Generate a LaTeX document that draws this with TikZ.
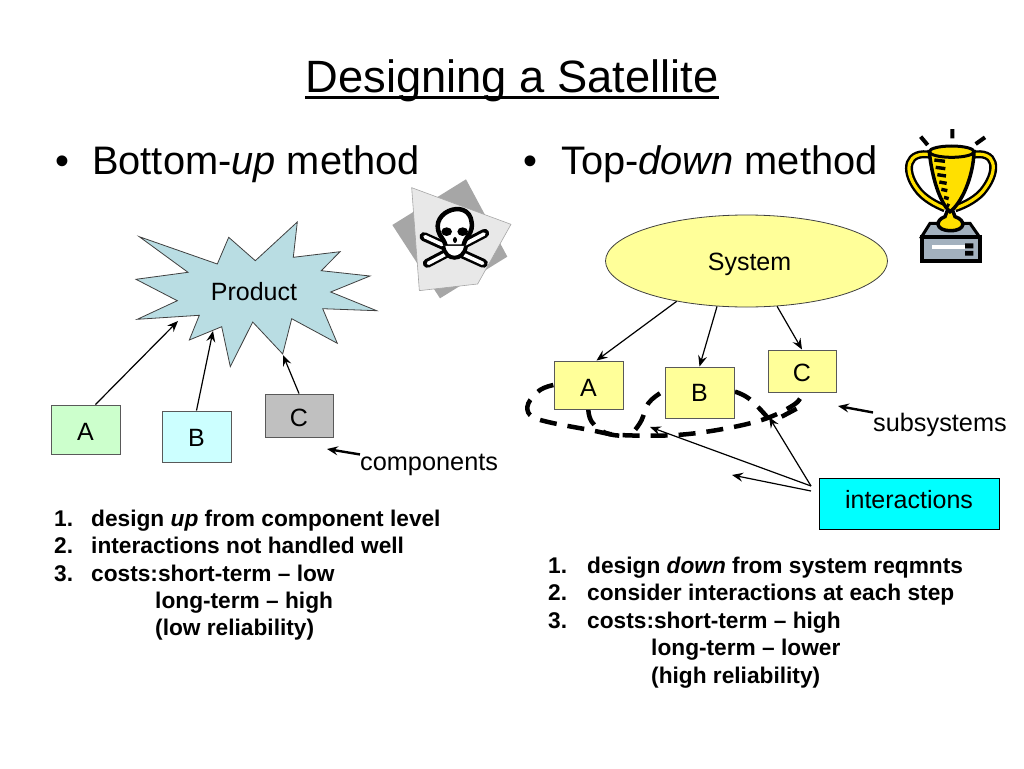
\documentclass[tikz,border=0pt]{standalone}
\usepackage{fontspec}
\setmainfont{Liberation Sans}
\usetikzlibrary{arrows.meta}
\usetikzlibrary{shapes.geometric}
\usetikzlibrary{positioning}

\definecolor{prodblue}{HTML}{B9DDE3}
\definecolor{lowgreen}{HTML}{CCFFCC}
\definecolor{lowcyan}{HTML}{CCFFFF}
\definecolor{lowgray}{HTML}{C0C0C0}
\definecolor{sysyellow}{HTML}{FFFF99}
\definecolor{intercyan}{HTML}{00FFFF}
\definecolor{cupyellow}{HTML}{FFE000}
\definecolor{basegray}{HTML}{A3B1BE}

\newcommand{\dropby}[2]{\raisebox{-#1}[0pt][0pt]{#2}}

\tikzset{
  partbox/.style={draw=black!65, line width=1pt, inner sep=0pt, font=\fontsize{25}{25}\selectfont},
  headtext/.style={anchor=base west, inner sep=0pt, font=\fontsize{39.8}{40}\selectfont},
  labeltext/.style={anchor=base west, inner sep=0pt, font=\fontsize{25.3}{25}\selectfont},
  listline/.style={anchor=base west, inner sep=0pt, font=\fontsize{22.7}{23}\selectfont\bfseries},
  thinarrow/.style={-{Stealth[length=11pt,width=9pt,inset=4pt]}, line width=1.2pt},
  heavyarrow/.style={-{Stealth[length=11pt,width=9pt,inset=4pt]}, line width=2.4pt},
  dashline/.style={line width=4.5pt, dash pattern=on 17pt off 11pt}
}

\begin{document}
\begin{tikzpicture}[x=1pt, y=-1pt]
  \useasboundingbox (0,0) rectangle (1024,768);

  % headings
  \node (title) [anchor=base, inner sep=0pt, font=\fontsize{45.3}{45}\selectfont] at (512,92) {Designing a Satellite};
  \draw[line width=2.8pt] ([yshift=-5.5pt]title.base west) -- ([yshift=-5.5pt]title.base east);
  \node (bulleta) [headtext] at (55,174) {•};
  \node (heada) [headtext] at (92,174) {Bottom-\emph{up} method};
  \node (bulletb) [headtext] at (523,174) {•};
  \node (headb) [headtext] at (561,174) {Top-\emph{down} method};

  % bottom-up side
  \draw[fill=prodblue, draw=black!75, line width=0.8pt] (139.3,236.7) -- (217.3,264) -- (228.7,237.3) -- (255.3,260.7)
    -- (297.3,222) -- (293.3,257.3) -- (340,251.7) -- (321.3,270.7) -- (370,276) -- (330.7,292)
    -- (376.7,310.7) -- (322.7,308.7) -- (337.3,343.3) -- (291.7,318.7) -- (282.7,354) -- (252.7,322)
    -- (230.3,366.7) -- (221.7,326.7) -- (189.3,340) -- (199.3,315.3) -- (137.3,319.3) -- (177.3,300.7)
    -- (136,279.3) -- (188,272.3) -- cycle;
  \node (product) [inner sep=0pt, font=\fontsize{25}{25}\selectfont] at (254,292) {Product};
  \coordinate (prodleft) at (178,321);
  \coordinate (prodmid) at (213,331);
  \coordinate (prodright) at (283,355);

  \node (lowa) [partbox, fill=lowgreen, minimum width=69pt, minimum height=49pt] at (85.5,429.5) {\dropby{10.5pt}{A}};
  \node (lowb) [partbox, fill=lowcyan, minimum width=69pt, minimum height=51pt] at (196.5,436.5) {\dropby{9.5pt}{B}};
  \node (lowc) [partbox, fill=lowgray, minimum width=68pt, minimum height=43pt] at (299,415.5) {\dropby{10.5pt}{C}};

  \draw[thinarrow] ([xshift=10pt]lowa.north) -- (prodleft);
  \draw[thinarrow] (lowb.north) -- (prodmid);
  \draw[thinarrow] (lowc.north) -- (prodright);

  \node (components) [labeltext] at (360,470) {components};
  \draw[heavyarrow] ([yshift=-1pt]components.north west) -- (327,449);

  \node (la1) [listline] at (54,526) {1.};
  \node (la2) [listline] at (54,553) {2.};
  \node (la3) [listline] at (54,581) {3.};
  \node (ta1) [listline] at (91,526) {design \emph{up} from component level};
  \node (ta2) [listline] at (91,553) {interactions not handled well};
  \node (ta3) [listline] at (91,581) {costs:short-term – low};
  \node (ta4) [listline] at (155,608) {long-term – high};
  \node (ta5) [listline] at (155,635) {(low reliability)};

  % skull sticker
  \begin{scope}[shift={(380,120)}, x=0.3333pt, y=-0.3333pt]
    \fill[black!35] (258,178) -- (382,410) -- (180,535) -- (37,315) -- cycle;
    \draw[black!35, fill=black!9, line width=0.6pt] (95,203) -- (393,313) -- (293,492) -- (118,512) -- cycle;
    \draw[black, line width=9pt, line cap=round] (132,350) -- (310,430) (314,340) -- (142,430);
    \draw[white, line width=3.6pt, line cap=round] (135,350) -- (308,430) (312,342) -- (145,430);
    \draw[black, fill=white, line width=4.5pt] (180,345) .. controls (140,270) and (285,225) .. (275,325)
      .. controls (272,345) and (255,350) .. (250,380) -- (198,380) .. controls (193,360) and (185,355) .. (180,345) -- cycle;
    \fill[black] (200,335) ellipse (16 and 13) (248,335) ellipse (16 and 13) (225,360) ellipse (6 and 9);
    \draw[black, fill=white, line width=4pt] (190,378) .. controls (195,425) and (252,425) .. (258,378);
  \end{scope}

  % top-down side
  \begin{scope}[shift={(520,340)}, x=0.3333pt, y=-0.3333pt]
    \draw[dashline] plot[smooth, tension=0.6] coordinates {(100,135) (60,150) (25,190) (30,225) (80,245) (210,270) (300,285) (470,285) (620,265) (740,235) (825,192) (848,160)};
    \draw[dashline] plot[smooth, tension=0.7] coordinates {(205,208) (215,245) (255,278) (300,287)};
    \draw[dashline] plot[smooth, tension=0.7] coordinates {(420,160) (385,190) (365,240) (345,270)};
    \draw[dashline] plot[smooth, tension=0.7] coordinates {(645,155) (690,178) (745,235)};
    \draw[dashline] (785,230) -- (832,205);
  \end{scope}

  \node (system) [draw=black!75, line width=0.8pt, fill=sysyellow, ellipse, minimum width=282pt, minimum height=92pt, inner sep=0pt, font=\fontsize{25}{25}\selectfont] at (746.5,261) {\hspace{6pt}\dropby{9pt}{System}};
  \node (topa) [partbox, fill=sysyellow, minimum width=69pt, minimum height=48pt] at (588.5,385) {\dropby{11pt}{A}};
  \node (topb) [partbox, fill=sysyellow, minimum width=69pt, minimum height=51pt] at (699.5,392.5) {\dropby{9pt}{B}};
  \node (topc) [partbox, fill=sysyellow, minimum width=68pt, minimum height=42pt] at (802,371) {\dropby{10.5pt}{C}};

  \draw[thinarrow] (system.-150) -- ([xshift=8pt]topa.north);
  \draw[thinarrow] (system.-123) -- (topb.north);
  \draw[thinarrow] (system.-56) -- (topc.north);

  \node (subsystems) [labeltext] at (873,431) {subsystems};
  \draw[heavyarrow] (subsystems.north west) -- (838,406);

  \node (inter) [draw=black, line width=1pt, fill=intercyan, minimum width=180pt, minimum height=51pt, inner sep=0pt, font=\fontsize{25}{25}\selectfont] at (909,503.5) {\dropby{4.5pt}{interactions}};
  \coordinate (interout) at (811,486);
  \coordinate (interlow) at (811,491);
  \coordinate (dashright) at (769,417);
  \coordinate (dashmid) at (650,427);
  \coordinate (dashfree) at (732,475);
  \draw[thinarrow] (interout) -- (dashright);
  \draw[thinarrow] (interout) -- (dashmid);
  \draw[thinarrow] (interlow) -- (dashfree);

  \node (lb1) [listline] at (548,573) {1.};
  \node (lb2) [listline] at (548,600) {2.};
  \node (lb3) [listline] at (548,628) {3.};
  \node (tb1) [listline] at (587,573) {design \emph{down} from system reqmnts};
  \node (tb2) [listline] at (587,600) {consider interactions at each step};
  \node (tb3) [listline] at (587,628) {costs:short-term – high};
  \node (tb4) [listline] at (651,655) {long-term – lower};
  \node (tb5) [listline] at (651,683) {(high reliability)};

  % trophy
  \begin{scope}[shift={(890,120)}, x=0.3333pt, y=-0.3333pt]
    \draw[black, line width=4pt] (92,50) -- (113,75) (187,27) -- (187,55) (285,52) -- (257,72);
    \draw[black, line width=8pt] (125,105) .. controls (50,90) and (40,150) .. (80,205) .. controls (100,235) and (140,255) .. (165,265);
    \draw[black, line width=8pt] (245,105) .. controls (320,90) and (325,150) .. (285,205) .. controls (265,235) and (225,255) .. (195,265);
    \draw[cupyellow, line width=3.2pt] (125,105) .. controls (50,90) and (40,150) .. (80,205) .. controls (100,235) and (140,255) .. (165,265);
    \draw[cupyellow, line width=3.2pt] (245,105) .. controls (320,90) and (325,150) .. (285,205) .. controls (265,235) and (225,255) .. (195,265);
    \draw[black, fill=basegray, line width=3pt] (120,310) -- (240,310) -- (268,350) -- (95,350) -- cycle;
    \draw[black, fill=basegray, line width=4pt] (95,350) rectangle (270,422);
    \fill[white] (125,375) rectangle (225,388);
    \fill[black] (225,370) rectangle (250,385) (225,393) rectangle (250,407);
    \draw[black, fill=cupyellow, line width=3.5pt] (172,272) -- (165,290) .. controls (135,300) and (135,332) .. (182,332) .. controls (228,332) and (228,300) .. (195,290) -- (188,272) -- cycle;
    \draw[black, fill=cupyellow, line width=3.5pt] (118,95) .. controls (125,170) and (150,250) .. (180,275) .. controls (215,250) and (250,170) .. (252,95) -- cycle;
    \draw[black, fill=cupyellow, line width=3pt] (185,95) ellipse (67 and 17);
    \foreach \xa/\xb/\yy in {133/165/120, 137/166/142, 142/168/164, 148/170/186, 154/172/208, 162/176/232, 170/178/254}
      \draw[black, line width=3.4pt] (\xa,\yy) -- (\xb,\yy+4);
  \end{scope}
\end{tikzpicture}
\end{document}
